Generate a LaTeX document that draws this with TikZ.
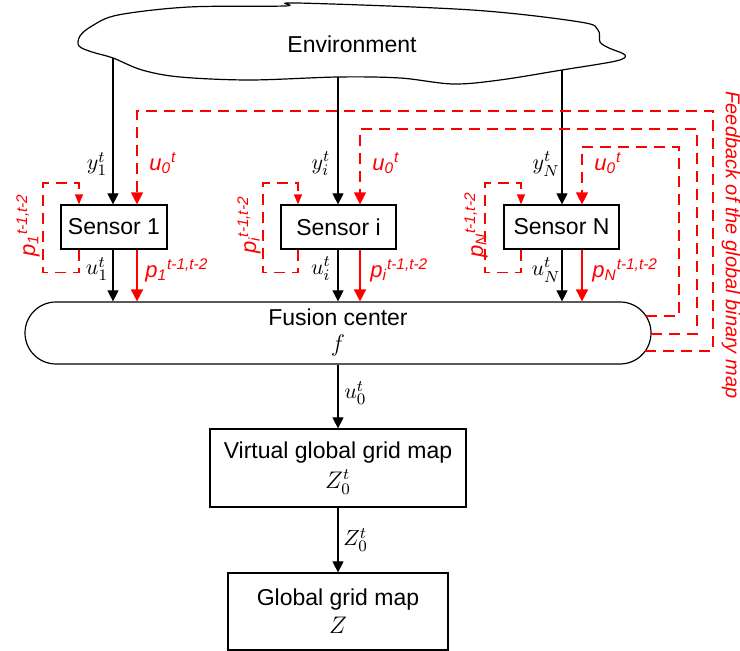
\documentclass[tikz,border=0pt]{standalone}
\usepackage{amsmath}
\usepackage{fontspec}
\setmainfont{Liberation Sans}
\usepackage{tikz}
\usetikzlibrary{arrows.meta,positioning}

\tikzset{
  box/.style={draw, line width=0.6pt, minimum height=22pt, align=center, inner sep=2pt, font=\fontsize{11.5}{13}\selectfont},
  sig/.style={line width=0.6pt, -{Triangle[length=5.5pt,width=5.5pt]}},
  rsig/.style={red, line width=0.9pt, -{Triangle[length=6pt,width=6pt]}},
  fb/.style={red, line width=0.7pt, dash pattern=on 5.5pt off 3.5pt, -{Triangle[length=6pt,width=6pt]}},
  loopfb/.style={red, line width=0.7pt, dash pattern=on 5.5pt off 3.5pt, -{Triangle[length=5pt,width=4pt]}},
  rlab/.style={red, inner sep=1pt, font=\fontsize{11}{13}\selectfont\itshape},
  mlab/.style={inner sep=1pt, font=\fontsize{11}{13}\selectfont},
}

\begin{document}
\begin{tikzpicture}[x=0.5pt,y=-0.5pt]
\useasboundingbox (0,0) rectangle (740,651);

% environment cloud
\draw[line width=0.6pt] plot[smooth cycle, tension=0.55] coordinates {
  (297,3) (472,10) (580,22) (598,30) (600,42) (609,48) (625,55) (616,61)
  (562,70) (500,80) (453,84) (400,78) (338,77) (250,80) (180,77) (142,70)
  (113,58) (92,52) (79,46) (80,36) (92,26) (118,15) (189,7) (285,6)};
\node[font=\fontsize{11.5}{13}\selectfont] (env) at (352,44) {Environment};
\coordinate (e1) at (113,58);
\coordinate (ei) at (338,77);
\coordinate (eN) at (562,70);

% sensors
\node[box, minimum width=53pt] (s1) at (114,227) {Sensor 1};
\node[box, minimum width=57.5pt] (si) at (338.5,227) {Sensor i};
\node[box, minimum width=57.5pt] (sN) at (561.5,227) {Sensor N};

% fusion center and maps
\node[draw, line width=0.6pt, rounded corners=15.5pt, minimum width=313pt, minimum height=31pt,
  align=center, font=\fontsize{11.5}{12}\selectfont] (fc) at (338,333) {Fusion center\\[1pt]$f$};
\node[box, minimum width=128pt, minimum height=39pt] (vg) at (338,468) {Virtual global grid map\\[2pt]$Z_0^t$};
\node[box, minimum width=110pt, minimum height=38.5pt] (gg) at (338,611.5) {Global grid map\\[1pt]$Z$};

% observations
\draw[sig] (e1) -- (e1 |- s1.north);
\draw[sig] (ei) -- (ei |- si.north);
\draw[sig] (eN) -- (eN |- sN.north);
\node[mlab] (y1) at (97,164) {$y_1^t$};
\node[mlab] (yi) at (321,164) {$y_i^t$};
\node[mlab] (yN) at (546,164) {$y_N^t$};

% local decisions
\coordinate (r1) at (137,0);
\coordinate (ri) at (360,0);
\coordinate (rN) at (582,0);
\draw[sig] (e1 |- s1.south) -- (e1 |- fc.north);
\draw[sig] (ei |- si.south) -- (ei |- fc.north);
\draw[sig] (eN |- sN.south) -- (eN |- fc.north);
\draw[rsig] (r1 |- s1.south) -- (r1 |- fc.north);
\draw[rsig] (ri |- si.south) -- (ri |- fc.north);
\draw[rsig] (rN |- sN.south) -- (rN |- fc.north);
\node[mlab] (u1) at (97,269) {$u_1^t$};
\node[mlab] (ui) at (321,269) {$u_i^t$};
\node[mlab] (uN) at (546,270) {$u_N^t$};
\node[rlab, anchor=west] (p1) at (143,270) {p\textsubscript{1}\textsuperscript{t-1,t-2}};
\node[rlab, anchor=west] (pi) at (368,270) {p\textsubscript{i}\textsuperscript{t-1,t-2}};
\node[rlab, anchor=west] (pN) at (590,270) {p\textsubscript{N}\textsuperscript{t-1,t-2}};

% self feedback
\coordinate (l1) at (79,0);
\coordinate (li) at (298,0);
\coordinate (lN) at (521,0);
\draw[loopfb] (l1 |- s1.south) -- ++(0,23) -| (43,183) -| (l1 |- s1.north);
\draw[loopfb] (li |- si.south) -- ++(0,23) -| (263,183) -| (li |- si.north);
\draw[loopfb] (lN |- sN.south) -- ++(0,23) -| (485,183) -| (lN |- sN.north);
\node[rlab, rotate=90] (q1) at (28,225) {p\textsubscript{1}\textsuperscript{t-1,t-2}};
\node[rlab, rotate=90] (qi) at (249,225) {p\textsubscript{i}\textsuperscript{t-1,t-2}};
\node[rlab, rotate=90] (qN) at (476,225) {p\textsubscript{N}\textsuperscript{t-1,t-2}};

% global feedback
\coordinate (fb1) at (646,316);
\coordinate (fb2) at (651,334);
\coordinate (fb3) at (645,351);
\coordinate (t1) at (137,111);
\coordinate (ti) at (360,129);
\coordinate (tN) at (582,147);
\draw[fb] (fb3) -| (713,111) -- (t1) -- (t1 |- s1.north);
\draw[fb] (fb2) -| (697,129) -- (ti) -- (ti |- si.north);
\draw[fb] (fb1) -| (679,147) -- (tN) -- (tN |- sN.north);
\node[rlab, anchor=west] (o1) at (147,163) {u\textsubscript{0}\textsuperscript{t}};
\node[rlab, anchor=west] (oi) at (370,163) {u\textsubscript{0}\textsuperscript{t}};
\node[rlab, anchor=west] (oN) at (592,163) {u\textsubscript{0}\textsuperscript{t}};
\node[red, rotate=-90, inner sep=0pt, font=\fontsize{10}{12}\selectfont\itshape] (fbtxt) at (731,245) {Feedback of the global binary map};

% global map
\draw[sig] (fc) -- (vg);
\draw[sig] (vg) -- (gg);
\node[mlab, anchor=west] (u0) at (342,393) {$u_0^t$};
\node[mlab, anchor=west] (z0) at (341,540) {$Z_0^t$};
\end{tikzpicture}
\end{document}
